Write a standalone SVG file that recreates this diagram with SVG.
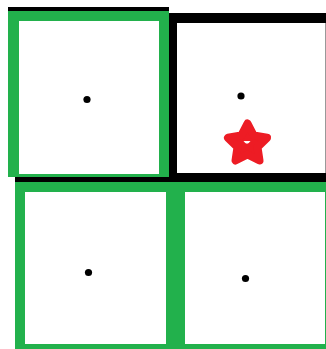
<svg xmlns="http://www.w3.org/2000/svg" width="326" height="349" viewBox="0 0 326 349">
  <style>
    .blk { fill: #000000; }
    .grn { fill: #22b14c; }
    .wht { fill: #ffffff; }
    .dot { fill: #000000; }
  </style>
  <rect width="326" height="349" fill="#ffffff"/>
  <g id="connectors"></g>
  <g id="cell-top-right">
    <rect class="blk" x="169" y="13" width="157" height="169"/>
    <rect class="wht" x="177" y="23" width="148" height="150"/>
    <line x1="325.5" y1="23" x2="325.5" y2="173" stroke="#999999" stroke-width="1"/>
    <circle class="dot" cx="241" cy="96" r="3.6"/>
    <g id="star">
      <polygon points="247.5,123.5 253.7,135.5 267,137.8 257.5,147.2 259.5,160.5 247.5,154.5 235.5,160.5 237.5,147.2 228,137.8 241.3,135.5" fill="#ed1c24" stroke="#ed1c24" stroke-width="8" stroke-linejoin="round"/>
      <path d="M243.5,141 H250.5 Q247,146.5 243.5,141 Z" fill="#ffffff"/>
    </g>
  </g>
  <g id="cell-top-left">
    <rect class="blk" x="8" y="7" width="161" height="5"/>
    <rect class="blk" x="15" y="176" width="154" height="6"/>
    <rect class="grn" x="8" y="11" width="161" height="166"/>
    <rect class="wht" x="19" y="21" width="140" height="153"/>
    <circle class="dot" cx="87" cy="99.5" r="3.6"/>
  </g>
  <g id="cell-bottom">
    <rect class="grn" x="15" y="182" width="311" height="167"/>
    <g id="cell-bottom-left">
      <rect class="wht" x="25" y="192" width="141" height="152"/>
      <circle class="dot" cx="88.5" cy="272.5" r="3.6"/>
    </g>
    <g id="cell-bottom-right">
      <rect class="wht" x="185" y="192" width="140" height="152"/>
      <circle class="dot" cx="245.5" cy="278.5" r="3.6"/>
    </g>
  </g>
</svg>
